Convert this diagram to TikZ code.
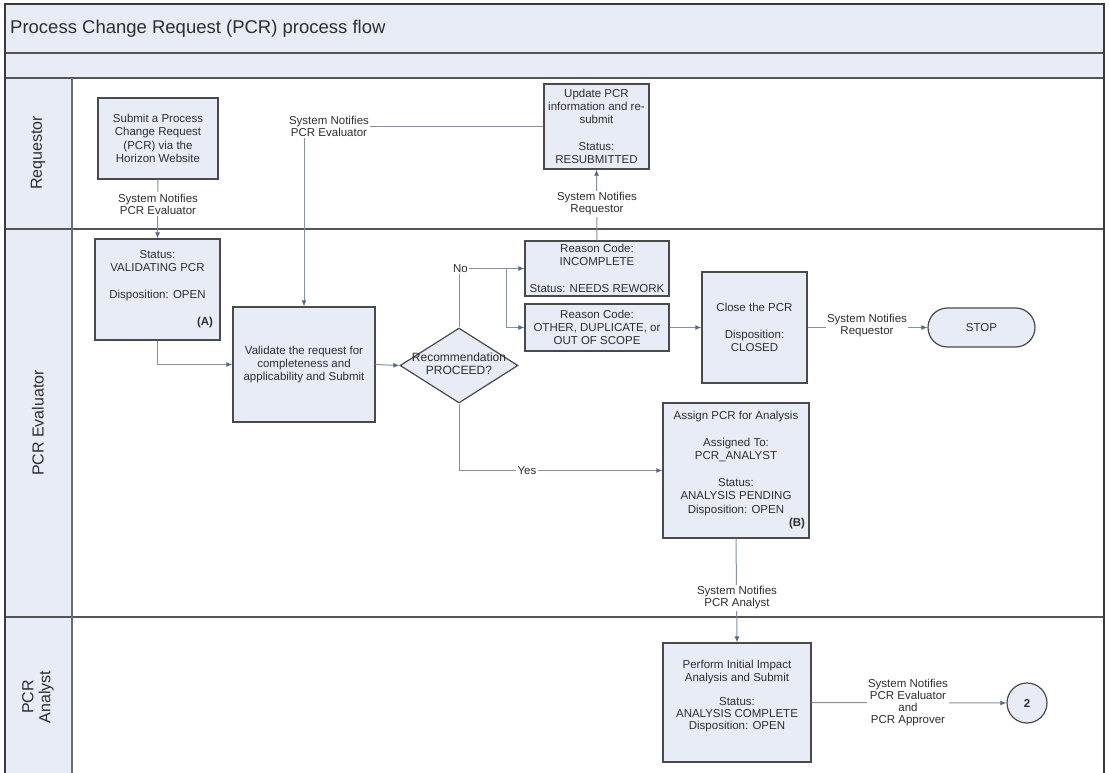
\documentclass[tikz,border=0pt]{standalone}
\usepackage{fontspec}
\setmainfont{Liberation Sans}
\usetikzlibrary{arrows.meta,shapes.geometric}

\definecolor{boxfill}{HTML}{E7ECF7}
\definecolor{lanefill}{HTML}{E8ECF6}
\definecolor{boxline}{HTML}{4A4A4A}
\definecolor{flowc}{HTML}{8591A3}
\definecolor{tipc}{HTML}{55698A}
\definecolor{framec}{HTML}{3A3A3A}
\definecolor{rulec}{HTML}{555555}
\definecolor{ink}{HTML}{2E2E2E}

\newcommand{\boxfont}{\fontsize{11.5}{13.3}\selectfont}
\newcommand{\lblfont}{\fontsize{11.5}{12}\selectfont}

\begin{document}
\begin{tikzpicture}[x=1pt,y=-1pt,
  box/.style={draw=boxline, fill=boxfill, line width=1.2pt, inner sep=0pt,
    align=center, text=ink, font=\boxfont},
  txt/.style={inner sep=0pt, align=center, text=ink, font=\boxfont},
  tag/.style={inner sep=0pt, text=ink, font=\boxfont\bfseries},
  lbl/.style={fill=white, inner sep=1.5pt, align=center, text=ink, font=\lblfont},
  lane/.style={rotate=90, align=center, text=ink, font=\fontsize{16}{17}\selectfont},
  flow/.style={draw=flowc, line width=1pt, -{Latex[length=6pt,width=5pt,color=tipc]}},
  plain/.style={draw=flowc, line width=1pt},
  rule/.style={draw=rulec, line width=1.6pt},
]
\useasboundingbox (0,0) rectangle (1109,773);
\fill[white] (0,0) rectangle (1109,773);

% pool background: title band, sub band, lane header column
\fill[lanefill] (5,4) rectangle (1104,53);
\fill[lanefill] (5,53) rectangle (1104,78);
\fill[lanefill] (5,78) rectangle (72,773);

% pool rules
\draw[rule] (5,53) -- (1104,53);
\draw[rule] (5,78) -- (1104,78);
\draw[rule] (5,229) -- (1104,229);
\draw[rule] (5,617) -- (1104,617);
\draw[draw=rulec!85, line width=1.4pt] (72,78) -- (72,773);
\draw[draw=framec, line width=2pt] (5,773) -- (5,4) -- (1104,4) -- (1104,773);

% title and lane names
\node[anchor=west, inner sep=0pt, text=ink, font=\fontsize{18.5}{20}\selectfont] (title)
  at (10,29) {Process Change Request (PCR) process flow};
\node[lane] (laneReq) at (38,153) {Requestor};
\node[lane] (laneEval) at (38,423) {PCR Evaluator};
\node[lane] (laneAna) at (38,697) {PCR\\Analyst};

% Requestor lane
\node[box, minimum width=120pt, minimum height=81pt] (submit) at (158,138.5)
  {Submit a Process\\Change Request\\(PCR) via the\\Horizon Website};
\node[box, minimum width=105pt, minimum height=85pt] (update) at (596.5,126.5)
  {Update PCR\\information and re-\\submit\\[13.3pt]Status:\\RESUBMITTED};

% PCR Evaluator lane
\node[box, minimum width=125pt, minimum height=101pt] (status) at (157.5,289.5) {};
\node[txt] (statusT) at (157.5,275.5) {Status:\\VALIDATING PCR\\[13.3pt]Disposition: OPEN};
\node[tag] (tagA) at (205,323) {(A)};

\node[box, minimum width=142pt, minimum height=115pt] (validate) at (304,364.5)
  {Validate the request for\\completeness and\\applicability and Submit};

\node[diamond, draw=boxline, fill=boxfill, line width=1.2pt, inner sep=0pt,
  minimum width=118pt, minimum height=75pt] (dia) at (459,365.5) {};
\node[txt, font=\fontsize{12}{13.3}\selectfont] (diaT) at (459,364) {Recommendation\\PROCEED?};

\node[box, minimum width=144pt, minimum height=55pt] (incomplete) at (597,268.5)
  {Reason Code:\\INCOMPLETE\\[13.3pt]Status: NEEDS REWORK};
\node[box, minimum width=144pt, minimum height=47pt] (other) at (597,327.5)
  {Reason Code:\\OTHER, DUPLICATE, or\\OUT OF SCOPE};
\node[box, minimum width=105pt, minimum height=111pt] (close) at (754.5,327.5)
  {Close the PCR\\[13.3pt]Disposition:\\CLOSED};
\node[box, minimum width=107pt, minimum height=39pt, rounded corners=19.5pt] (stop) at (981.5,327.5)
  {STOP};

\node[box, minimum width=146pt, minimum height=135pt] (assign) at (736,470.5) {};
\node[txt] (assignT) at (736,463.5)
  {Assign PCR for Analysis\\[13.3pt]Assigned To:\\PCR\_ANALYST\\[13.3pt]Status:\\ANALYSIS PENDING\\Disposition: OPEN};
\node[tag] (tagB) at (797,524) {(B)};

% PCR Analyst lane
\node[box, minimum width=148pt, minimum height=119pt] (perform) at (737,702.5) {};
\node[txt, font=\fontsize{11.5}{12.2}\selectfont] (performT) at (737,696.5)
  {Perform Initial Impact\\Analysis and Submit\\[12.2pt]Status:\\ANALYSIS COMPLETE\\Disposition: OPEN};
\node[circle, draw=boxline, fill=boxfill, line width=1.2pt, inner sep=0pt,
  minimum size=40pt, text=ink, font=\boxfont\bfseries] (next) at (1027,703) {2};

% connectors
\coordinate (nobranch) at (506,268.5);
\draw[flow] (submit.south) -- (status.north);
\draw[flow] (status.south) |- (validate.west);
\draw[flow] (update.west) -| (validate.north);
\draw[flow] (incomplete.north) -- (update.south);
\draw[flow] (validate.east) -- (dia.west);
\draw[flow] (dia.north) |- (incomplete.west);
\draw[flow] (nobranch) |- (other.west);
\draw[flow] (other.east) -- (close.west);
\draw[flow] (close.east) -- (stop.west);
\draw[flow] (dia.south) |- (assign.west);
\draw[flow] (assign.south) -- (perform.north);
\draw[flow] (perform.east) -- (next.west);

% connector labels
\node[lbl] (l1) at (158,204) {System Notifies\\PCR Evaluator};
\node[lbl] (l2) at (329,126) {System Notifies\\PCR Evaluator};
\node[lbl] (l3) at (597,204) {System Notifies\\Requestor};
\node[lbl, inner sep=1pt] (lNo) at (460.5,268.5) {No};
\node[lbl] (l4) at (867,326) {System Notifies\\Requestor};
\node[lbl] (lYes) at (527,470.5) {Yes};
\node[lbl] (l5) at (737,598) {System Notifies\\PCR Analyst};
\node[lbl] (l6) at (908,703) {System Notifies\\PCR Evaluator\\and\\PCR Approver};
\end{tikzpicture}
\end{document}
